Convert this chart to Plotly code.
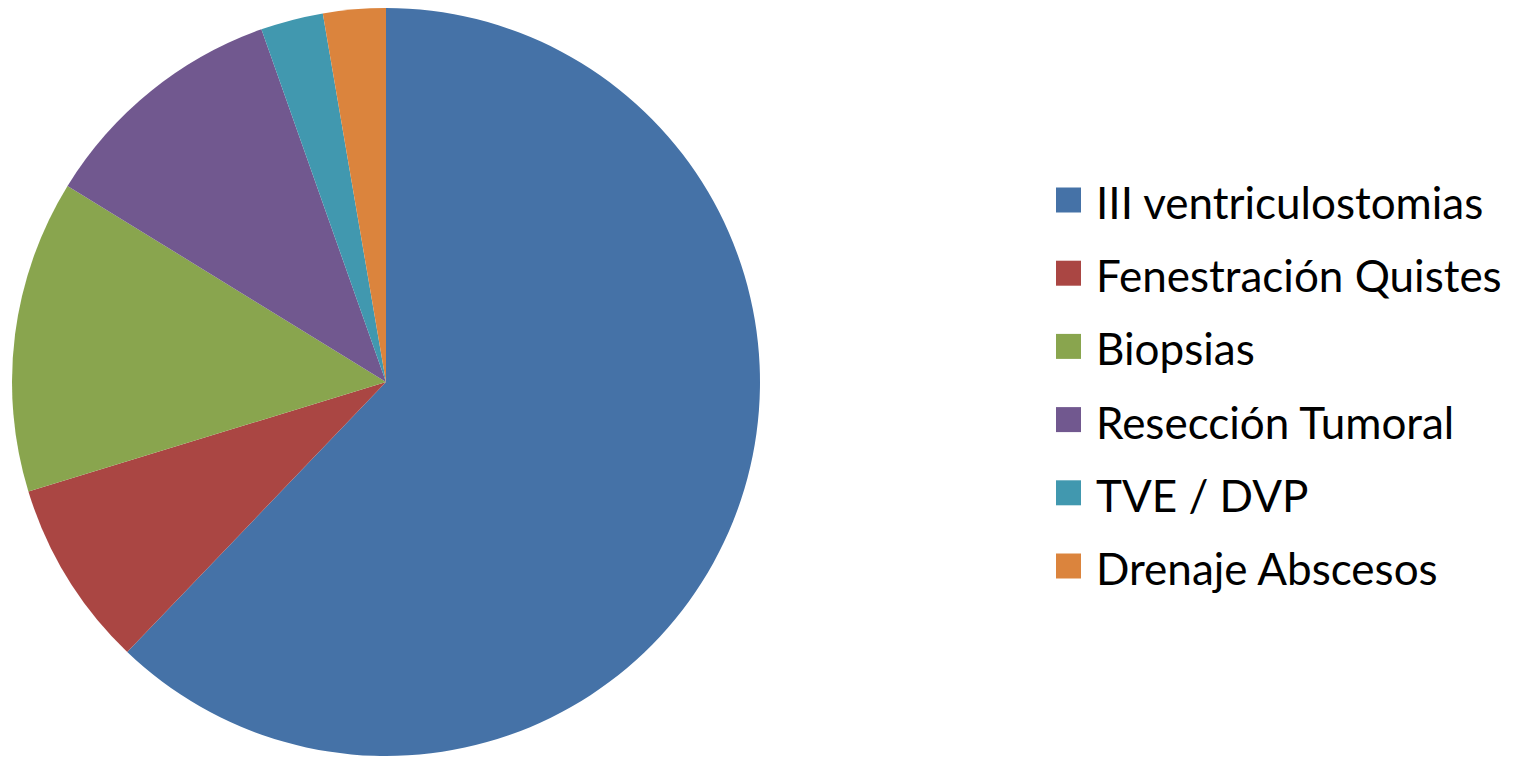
import plotly.graph_objects as go

labels = ["III ventriculostomias", "Fenestración Quistes", "Biopsias",
          "Resección Tumoral", "TVE / DVP", "Drenaje Abscesos"]
counts = [23, 3, 5, 4, 1, 1]
colors = ["#4572A7", "#AA4643", "#89A54E", "#71588F", "#4198AF", "#DB843D"]

W, H = 1516, 758

fig = go.Figure(go.Pie(
    labels=labels,
    values=counts,
    marker=dict(colors=colors, line=dict(width=0)),
    sort=False,
    direction="clockwise",
    rotation=0,
    textinfo="none",
    hoverinfo="label+value+percent",
    showlegend=False,
    domain=dict(x=[12 / W, 760 / W], y=[2 / H, 750 / H]),
))

# Legend drawn as colored squares with text labels
row0, step = 200, 73.2
for i, (lab, col) in enumerate(zip(labels, colors)):
    yc = row0 + i * step
    fig.add_shape(type="rect", xref="paper", yref="paper",
                  x0=1056 / W, x1=1081 / W,
                  y0=1 - (yc + 12.5) / H, y1=1 - (yc - 12.5) / H,
                  fillcolor=col, line=dict(width=0))
    fig.add_annotation(x=1094 / W, y=1 - (yc + 2) / H, xref="paper", yref="paper",
                       text=lab, showarrow=False, xanchor="left", yanchor="middle",
                       font=dict(family="Lato", size=44, color="#000000"))

fig.update_layout(
    width=W, height=H,
    margin=dict(l=0, r=0, t=0, b=0),
    paper_bgcolor="white",
    plot_bgcolor="white",
)

fig.write_html("out.html")
